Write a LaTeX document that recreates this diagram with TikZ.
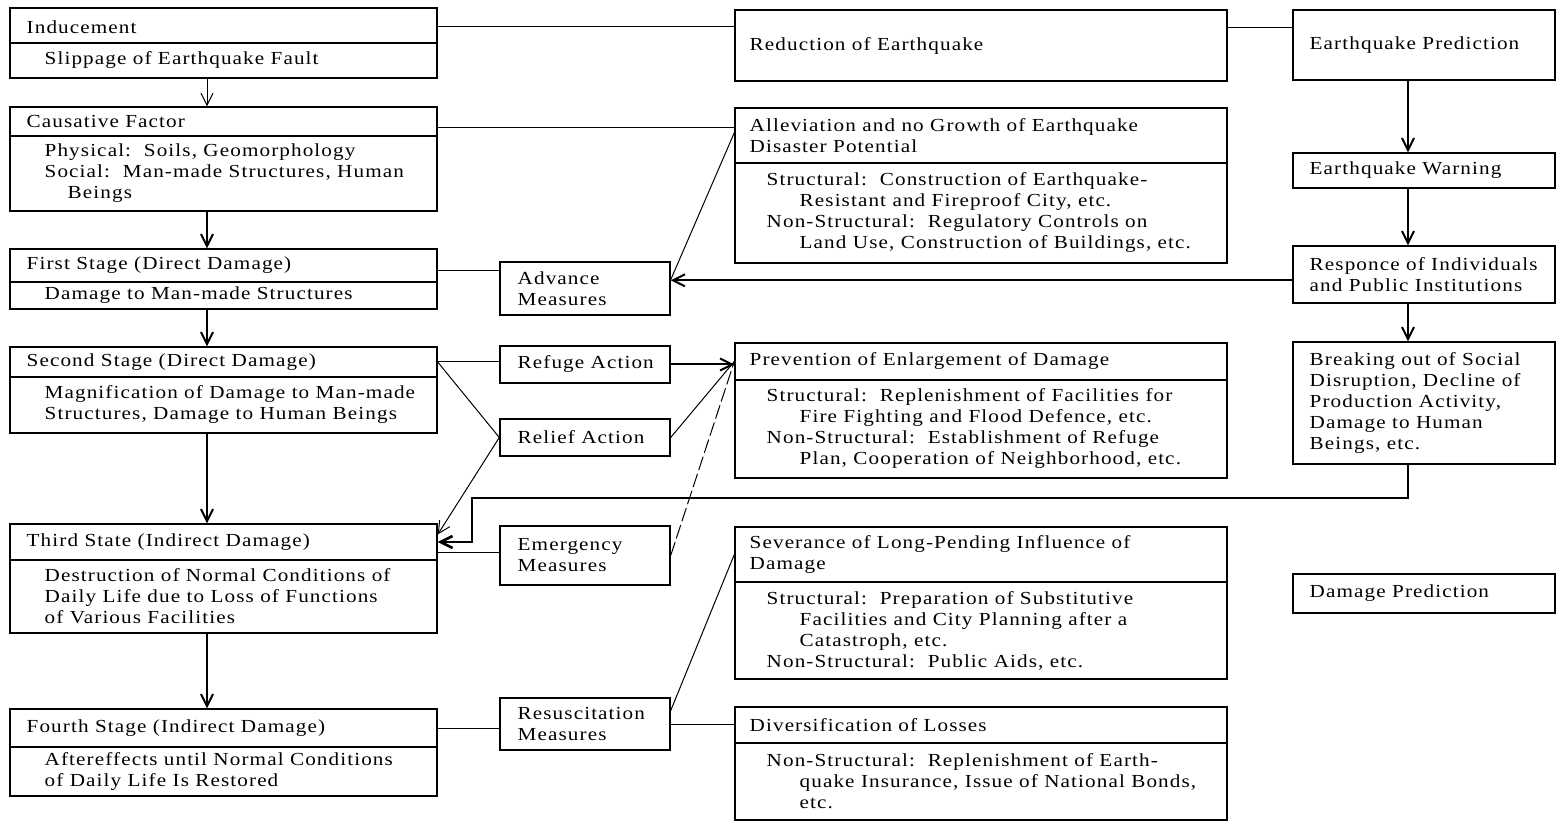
\documentclass[tikz,border=0pt]{standalone}
\usepackage{fontspec}
\setmainfont{Liberation Serif}[FakeStretch=1.15,LetterSpace=6]
\usetikzlibrary{arrows.meta,calc,fit}
\newcommand\ind[1]{\hspace*{#1}}
\begin{document}
\begin{tikzpicture}[x=0.5pt,y=-0.5pt,
  box/.style={draw, line width=0.7pt, rectangle, inner sep=0pt},
  txt/.style={inner sep=0pt, anchor=west, align=left, font=\fontsize{9.2}{10.5}\selectfont},
  con/.style={line width=0.5pt},
  arr/.style={-{Straight Barb[length=6pt,width=6pt]}},
  thk/.style={line width=1pt},
]
\useasboundingbox[fill=white] (0,0) rectangle (1557,822);
% ---------- left column
\node[box, fit={(10,8)(437,43)}] (indH) {};
\node[box, fit={(10,43)(437,78)}] (indB) {};
\node[box, fit={(10,107)(437,136)}] (cauH) {};
\node[box, fit={(10,136)(437,211)}] (cauB) {};
\node[box, fit={(10,249)(437,282)}] (firH) {};
\node[box, fit={(10,282)(437,309)}] (firB) {};
\node[box, fit={(10,347)(437,377)}] (secH) {};
\node[box, fit={(10,377)(437,433)}] (secB) {};
\node[box, fit={(10,524)(437,560)}] (thiH) {};
\node[box, fit={(10,560)(437,633)}] (thiB) {};
\node[box, fit={(10,709)(437,747)}] (fouH) {};
\node[box, fit={(10,747)(437,796)}] (fouB) {};
\node[txt] (indHt) at ([xshift=8.5pt,yshift=-1pt]indH.west) {Inducement};
\node[txt] (indBt) at ([xshift=17.5pt]indB.west) {Slippage of Earthquake Fault};
\node[txt] (cauHt) at ([xshift=8.5pt]cauH.west) {Causative Factor};
\node[txt] (cauBt) at ([xshift=17.5pt]cauB.west) {Physical:\ \ Soils, Geomorphology\\Social:\ \ Man-made Structures, Human\\\ind{11.5pt}Beings};
\node[txt] (firHt) at ([xshift=8.5pt]firH.west) {First Stage (Direct Damage)};
\node[txt] (firBt) at ([xshift=17.5pt]firB.west) {Damage to Man-made Structures};
\node[txt] (secHt) at ([xshift=8.5pt]secH.west) {Second Stage (Direct Damage)};
\node[txt] (secBt) at ([xshift=17.5pt]secB.west) {Magnification of Damage to Man-made\\Structures, Damage to Human Beings};
\node[txt] (thiHt) at ([xshift=8.5pt]thiH.west) {Third State (Indirect Damage)};
\node[txt] (thiBt) at ([xshift=17.5pt]thiB.west) {Destruction of Normal Conditions of\\Daily Life due to Loss of Functions\\of Various Facilities};
\node[txt] (fouHt) at ([xshift=8.5pt]fouH.west) {Fourth Stage (Indirect Damage)};
\node[txt] (fouBt) at ([xshift=17.5pt]fouB.west) {Aftereffects until Normal Conditions\\of Daily Life Is Restored};
% ---------- small boxes
\node[box, fit={(500,262)(670,315)}] (adv) {};
\node[box, fit={(500,346)(670,383)}] (ref) {};
\node[box, fit={(500,419)(670,456)}] (rel) {};
\node[box, fit={(500,526)(670,585)}] (eme) {};
\node[box, fit={(500,698)(670,750)}] (res) {};
\node[txt] (advt) at ([xshift=9pt]adv.west) {Advance\\Measures};
\node[txt] (reft) at ([xshift=9pt]ref.west) {Refuge Action};
\node[txt] (relt) at ([xshift=9pt]rel.west) {Relief Action};
\node[txt] (emet) at ([xshift=9pt]eme.west) {Emergency\\Measures};
\node[txt] (rest) at ([xshift=9pt]res.west) {Resuscitation\\Measures};
% ---------- middle column
\node[box, fit={(735,10)(1227,81)}] (red) {};
\node[box, fit={(735,108)(1227,163)}] (allH) {};
\node[box, fit={(735,163)(1227,263)}] (allB) {};
\node[box, fit={(735,343)(1227,380)}] (preH) {};
\node[box, fit={(735,380)(1227,478)}] (preB) {};
\node[box, fit={(735,527)(1227,582)}] (sevH) {};
\node[box, fit={(735,582)(1227,679)}] (sevB) {};
\node[box, fit={(735,707)(1227,743)}] (divH) {};
\node[box, fit={(735,743)(1227,820)}] (divB) {};
\node[txt] (redt) at ([xshift=7.5pt]red.west) {Reduction of Earthquake};
\node[txt] (allHt) at ([xshift=7.5pt]allH.west) {Alleviation and no Growth of Earthquake\\Disaster Potential};
\node[txt] (allBt) at ([xshift=16pt]allB.west) {Structural:\ \ Construction of Earthquake-\\\ind{16.5pt}Resistant and Fireproof City, etc.\\Non-Structural:\ \ Regulatory Controls on\\\ind{16.5pt}Land Use, Construction of Buildings, etc.};
\node[txt] (preHt) at ([xshift=7.5pt]preH.west) {Prevention of Enlargement of Damage};
\node[txt] (preBt) at ([xshift=16pt]preB.west) {Structural:\ \ Replenishment of Facilities for\\\ind{16.5pt}Fire Fighting and Flood Defence, etc.\\Non-Structural:\ \ Establishment of Refuge\\\ind{16.5pt}Plan, Cooperation of Neighborhood, etc.};
\node[txt] (sevHt) at ([xshift=7.5pt]sevH.west) {Severance of Long-Pending Influence of\\Damage};
\node[txt] (sevBt) at ([xshift=16pt]sevB.west) {Structural:\ \ Preparation of Substitutive\\\ind{16.5pt}Facilities and City Planning after a\\\ind{16.5pt}Catastroph, etc.\\Non-Structural:\ \ Public Aids, etc.};
\node[txt] (divHt) at ([xshift=7.5pt]divH.west) {Diversification of Losses};
\node[txt] (divBt) at ([xshift=16pt]divB.west) {Non-Structural:\ \ Replenishment of Earth-\\\ind{16.5pt}quake Insurance, Issue of National Bonds,\\\ind{16.5pt}etc.};
% ---------- right column
\node[box, fit={(1293,10)(1555,80)}] (eqp) {};
\node[box, fit={(1293,153)(1555,188)}] (eqw) {};
\node[box, fit={(1293,246)(1555,303)}] (rsp) {};
\node[box, fit={(1293,342)(1555,464)}] (brk) {};
\node[box, fit={(1293,574)(1555,613)}] (dmg) {};
\node[txt] (eqpt) at ([xshift=8.5pt]eqp.west) {Earthquake Prediction};
\node[txt] (eqwt) at ([xshift=8.5pt]eqw.west) {Earthquake Warning};
\node[txt] (rspt) at ([xshift=8.5pt]rsp.west) {Responce of Individuals\\and Public Institutions};
\node[txt] (brkt) at ([xshift=8.5pt]brk.west) {Breaking out of Social\\Disruption, Decline of\\Production Activity,\\Damage to Human\\Beings, etc.};
\node[txt] (dmgt) at ([xshift=8.5pt]dmg.west) {Damage Prediction};
% ---------- connectors
\coordinate (lx) at (207,0);
\coordinate (rx) at (1408,0);
\coordinate (bend) at (472,498);
\draw[con,arr] (indB.south -| lx) -- (cauH.north -| lx);
\draw[thk,arr] (cauB.south -| lx) -- (firH.north -| lx);
\draw[thk,arr] (firB.south -| lx) -- (secH.north -| lx);
\draw[thk,arr] (secB.south -| lx) -- (thiH.north -| lx);
\draw[thk,arr] (thiB.south -| lx) -- (fouH.north -| lx);
\draw[con] ($(indH.north east)!0.54!(indH.south east)$) coordinate (i1) -- (i1 -| red.west);
\draw[con] ($(red.north east)!0.25!(red.south east)$) coordinate (r1) -- (r1 -| eqp.west);
\draw[con] ($(cauH.north east)!0.7!(cauH.south east)$) coordinate (c1) -- (c1 -| allH.west);
\draw[con] ($(allH.north west)!0.45!(allH.south west)$) -- ($(adv.north east)!0.34!(adv.south east)$);
\draw[thk,arr] ($(rsp.north west)!0.6!(rsp.south west)$) coordinate (r2) -- (r2 -| adv.east);
\draw[con] ($(firH.north east)!0.64!(firH.south east)$) coordinate (f1) -- (f1 -| adv.west);
\draw[thk,arr] (eqp.south -| rx) -- (eqw.north -| rx);
\draw[thk,arr] (eqw.south -| rx) -- (rsp.north -| rx);
\draw[thk,arr] (rsp.south -| rx) -- (brk.north -| rx);
\draw[line width=1.3pt,arr] (brk.south -| rx) |- (bend) |- (thiH.east);
\draw[con] (secH.east) -- (secH.east -| ref.west);
\draw[con] (secH.east) -- (rel.west);
\draw[thk,arr] (ref.east) -- (ref.east -| preH.west);
\draw[con] (rel.east) -- (preH.west);
\draw[con,arr] (rel.west) -- ($(thiH.north east)!0.3!(thiH.south east)$);
\draw[con] ($(thiH.north east)!0.78!(thiH.south east)$) coordinate (t1) -- (t1 -| eme.west);
\draw[con,dash pattern=on 7pt off 2pt] (eme.east) -- (preH.west);
\draw[con] (fouH.east) -- (fouH.east -| res.west);
\draw[con] (res.east) -- (res.east -| divH.west);
\draw[con] ($(res.north east)!0.25!(res.south east)$) -- (sevH.west);
\end{tikzpicture}
\end{document}
